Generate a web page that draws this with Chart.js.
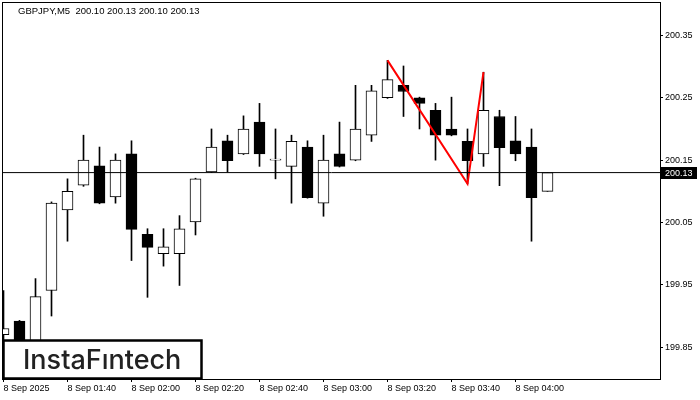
<!DOCTYPE html>
<html>
<head>
<meta charset="utf-8">
<script src="https://cdn.jsdelivr.net/npm/chart.js@4.4.0/dist/chart.umd.min.js"></script>
<style>
  html, body { margin: 0; padding: 0; background: #fff; }
  #wrap { width: 700px; height: 400px; }
</style>
</head>
<body>
<div id="wrap"><canvas id="c" width="700" height="400"></canvas></div>
<script>
// GBPJPY M5 svecītes (nolasītas no attēla)
var opens  = [199.870, 199.892, 199.850, 199.941, 200.070, 200.110, 200.141, 200.091, 200.160, 200.031,
              200.000, 200.000, 200.051, 200.131, 200.181, 200.160, 200.211, 200.150, 200.140, 200.171,
              200.081, 200.160, 200.150, 200.190, 200.250, 200.270, 200.250, 200.230, 200.200, 200.180,
              200.160, 200.220, 200.181, 200.171, 200.100];
var highs  = [199.941, 199.893, 199.960, 200.083, 200.120, 200.190, 200.171, 200.160, 200.181, 200.040,
              200.040, 200.061, 200.121, 200.200, 200.190, 200.221, 200.241, 200.200, 200.190, 200.181,
              200.190, 200.211, 200.270, 200.270, 200.310, 200.301, 200.251, 200.241, 200.251, 200.200,
              200.291, 200.230, 200.220, 200.200, 200.130];
var lows   = [199.840, 199.830, 199.840, 199.900, 200.020, 200.108, 200.080, 200.081, 199.989, 199.930,
              199.980, 199.949, 200.030, 200.130, 200.131, 200.159, 200.140, 200.120, 200.081, 200.089,
              200.060, 200.139, 200.149, 200.180, 200.249, 200.220, 200.200, 200.150, 200.189, 200.112,
              200.140, 200.109, 200.149, 200.020, 200.100];
var closes = [199.880, 199.850, 199.931, 200.081, 200.100, 200.150, 200.081, 200.150, 200.039, 200.010,
              200.011, 200.040, 200.120, 200.171, 200.149, 200.200, 200.160, 200.150, 200.180, 200.090,
              200.150, 200.140, 200.200, 200.261, 200.279, 200.260, 200.241, 200.190, 200.190, 200.149,
              200.230, 200.170, 200.160, 200.090, 200.130];

var timeTickIdx = [0, 4, 8, 12, 16, 20, 24, 28, 32];
var timeLabels  = ['8 Sep 2025', '8 Sep 01:40', '8 Sep 02:00', '8 Sep 02:20', '8 Sep 02:40',
                   '8 Sep 03:00', '8 Sep 03:20', '8 Sep 03:40', '8 Sep 04:00'];
var priceTicks  = [199.85, 199.95, 200.05, 200.15, 200.25, 200.35];

// figūra "dubultā virsotne": augstums - zemums - augstums
var patternIdx = [24, 29, 30];
var patternVal = [highs[24], lows[29], highs[30]];

var symbolTitle = 'GBPJPY,M5  200.10 200.13 200.10 200.13';
var lastPrice = closes[closes.length - 1];

var AXIS_FONT = {family: 'Liberation Sans', size: 9};
var X_MIN = -0.5 / 16;
var X_MAX = X_MIN + 657 / 16;

var idx = opens.map(function (_, i) { return i; });

var noPad = function (s) {
  s.paddingLeft = 0; s.paddingRight = 0; s.paddingTop = 0; s.paddingBottom = 0;
};

var mtOverlay = {
  id: 'mtOverlay',
  afterDraw: function (chart) {
    var ctx = chart.ctx, a = chart.chartArea;
    var yPx = chart.scales.y.getPixelForValue(lastPrice);
    ctx.save();
    // rāmis
    ctx.strokeStyle = '#000';
    ctx.lineWidth = 1;
    ctx.strokeRect(a.left - 0.5, a.top - 0.5, a.right - a.left + 1, a.bottom - a.top + 1);
    // virsraksts
    ctx.fillStyle = '#000';
    ctx.font = '9.5px "Liberation Sans"';
    ctx.textBaseline = 'middle';
    ctx.textAlign = 'left';
    ctx.fillText(symbolTitle, 18, 11.5);
    // pēdējās cenas birka
    ctx.font = '9px "Liberation Sans"';
    ctx.fillStyle = '#000';
    ctx.fillRect(661, Math.round(yPx) - 6, 36, 12);
    ctx.fillStyle = '#fff';
    ctx.fillText(lastPrice.toFixed(2), 665, Math.round(yPx) + 0.5);
    // logo
    ctx.fillStyle = '#fff';
    ctx.fillRect(4, 341, 196, 37);
    ctx.strokeStyle = '#000';
    ctx.lineWidth = 2.5;
    ctx.strokeRect(3.5, 340.5, 198, 38);
    ctx.fillStyle = '#222';
    ctx.font = '500 27px Inter';
    ctx.textBaseline = 'alphabetic';
    ctx.fillText('InstaFıntech', 23, 369);
    ctx.restore();
  }
};

new Chart(document.getElementById('c').getContext('2d'), {
  type: 'bar',
  data: {
    datasets: [
      {
        type: 'line',
        data: [{x: -1, y: lastPrice}, {x: 45, y: lastPrice}],
        borderColor: '#000', borderWidth: 1, pointRadius: 0, order: 0,
      },
      {
        type: 'line',
        data: patternIdx.map(function (x, k) { return {x: x, y: patternVal[k]}; }),
        borderColor: '#ff0000', borderWidth: 2, pointRadius: 0, tension: 0, order: 1,
      },
      {
        data: idx.map(function (i) { return {x: i, y: [opens[i], closes[i]]}; }),
        backgroundColor: idx.map(function (i) { return closes[i] >= opens[i] ? '#fff' : '#000'; }),
        borderColor: '#000', borderWidth: 1, borderSkipped: false,
        barThickness: 11, grouped: false, minBarLength: 1, order: 2,
      },
      {
        data: idx.map(function (i) { return {x: i, y: [lows[i], highs[i]]}; }),
        backgroundColor: '#000', borderWidth: 0,
        barThickness: 1, grouped: false, order: 3,
      }
    ]
  },
  options: {
    responsive: false,
    animation: false,
    events: [],
    layout: {padding: {left: 3, top: 3, right: 0, bottom: 0}},
    plugins: {legend: {display: false}, tooltip: {enabled: false}},
    scales: {
      x: {
        type: 'linear', min: X_MIN, max: X_MAX, offset: false,
        afterBuildTicks: function (s) { s.ticks = timeTickIdx.map(function (v) { return {value: v}; }); },
        afterFit: function (s) { s.height = 21; noPad(s); },
        ticks: {
          callback: function (v, i) { return timeLabels[i]; },
          align: 'start', maxRotation: 0, autoSkip: false,
          font: AXIS_FONT, color: '#000', padding: 1,
        },
        grid: {drawOnChartArea: false, drawTicks: true, tickLength: 3, color: '#000', offset: false},
        border: {display: false},
      },
      y: {
        position: 'right', min: 199.799, max: 200.402,
        afterBuildTicks: function (s) { s.ticks = priceTicks.map(function (v) { return {value: v}; }); },
        afterFit: function (s) { s.width = 40; noPad(s); },
        ticks: {
          callback: function (v) { return v.toFixed(2); },
          font: AXIS_FONT, color: '#000', padding: 2,
        },
        grid: {drawOnChartArea: false, drawTicks: true, tickLength: 3, color: '#000'},
        border: {display: false},
      }
    }
  },
  plugins: [mtOverlay]
});
</script>
</body>
</html>
